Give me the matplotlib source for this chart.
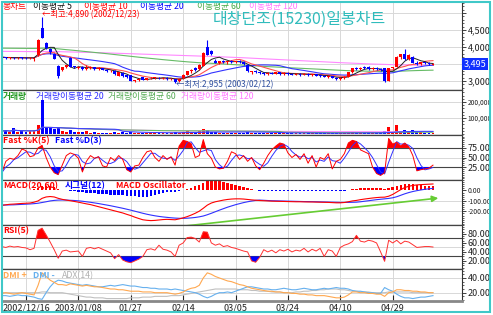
import matplotlib
matplotlib.use("Agg")
import matplotlib.pyplot as plt
import matplotlib.transforms as mtransforms
from matplotlib.patches import Rectangle
from matplotlib.ticker import FixedLocator, MultipleLocator, FuncFormatter
import numpy as np
import pandas as pd

plt.rcParams["font.family"] = ["Noto Sans CJK KR", "DejaVu Sans"]

W, H = 493, 315

# --- data (daily bars, 2002/12 .. 2003/05) ---
tick_bars = [6, 19, 32, 45, 58, 71, 84, 97]
tick_labels = ["2002/12/16", "2003/01/08", "01/27", "02/14", "03/05", "03/24", "04/10", "04/29"]
hi_date, lo_date = "2002/12/23", "2003/02/12"

opens = [3680, 3700, 3680, 3690, 3670, 3690, 3680, 3670, 3640,
         3750, 4560, 4120, 3940, 3800, 3430,
         3320, 3400, 3690, 3430, 3380, 3420, 3340, 3370, 3400, 3350,
         3380, 3330, 3280, 3300, 3160, 3230, 3170, 3170, 3010, 3040,
         3110, 3040, 3080, 3090, 3100, 3080, 3090, 3060, 3050, 2990,
         3080, 3180, 3290, 3380, 3340, 3450, 4000, 3880, 3600, 3540,
         3580, 3550, 3590, 3560, 3580, 3550, 3470, 3270, 3290, 3250,
         3230, 3200, 3240, 3220, 3250, 3200, 3230, 3210, 3190, 3220,
         3180, 3210, 3170, 3200, 3160, 3150, 3130, 3150, 3090, 3060,
         3080, 3120, 3250, 3380, 3340, 3400, 3400, 3350, 3380, 3340,
         3370, 3000, 3390, 3420, 3720, 3800, 3650, 3720, 3540, 3490, 3550, 3530, 3480]
highs = [3720, 3720, 3710, 3710, 3700, 3720, 3700, 3700, 3680,
         4230, 4890, 4150, 3960, 3830, 3460,
         3420, 3480, 3720, 3450, 3440, 3430, 3470, 3450, 3410, 3400,
         3390, 3340, 3330, 3310, 3270, 3260, 3180, 3190, 3040, 3080,
         3120, 3100, 3120, 3130, 3120, 3110, 3110, 3090, 3060, 3060,
         3200, 3300, 3350, 3420, 3500, 3850, 4200, 3900, 3650, 3600,
         3620, 3600, 3610, 3600, 3620, 3580, 3500, 3300, 3310, 3290,
         3260, 3260, 3260, 3270, 3260, 3250, 3250, 3240, 3230, 3240,
         3230, 3230, 3210, 3220, 3190, 3180, 3170, 3160, 3110, 3120,
         3140, 3260, 3390, 3400, 3400, 3440, 3430, 3400, 3400, 3380,
         3390, 3390, 3420, 3740, 3800, 3940, 3780, 3740, 3580, 3560, 3570, 3560, 3520]
lows = [3650, 3660, 3660, 3650, 3640, 3660, 3650, 3640, 3600,
        3740, 4250, 3950, 3800, 3640, 3100,
        3300, 3380, 3400, 3380, 3360, 3330, 3320, 3350, 3330, 3330,
        3310, 3260, 3260, 3190, 3140, 3130, 3100, 2990, 2980, 3010,
        3020, 3030, 3060, 3070, 3060, 3050, 3040, 3020, 2955, 2980,
        3070, 3170, 3240, 3300, 3320, 3440, 3750, 3760, 3520, 3500,
        3530, 3500, 3530, 3520, 3540, 3480, 3260, 3200, 3230, 3210,
        3180, 3190, 3200, 3200, 3190, 3180, 3190, 3170, 3170, 3160,
        3170, 3150, 3150, 3140, 3120, 3110, 3100, 3080, 3030, 3040,
        3060, 3110, 3240, 3320, 3320, 3360, 3330, 3330, 3320, 3300,
        2960, 2990, 3350, 3400, 3650, 3620, 3620, 3520, 3470, 3480, 3500, 3480, 3470]
closes = [3700, 3680, 3690, 3670, 3690, 3680, 3670, 3690, 3670,
          4200, 4260, 3980, 3840, 3660, 3160,
          3400, 3460, 3420, 3400, 3420, 3350, 3380, 3400, 3350, 3380,
          3330, 3280, 3300, 3200, 3250, 3160, 3110, 3000, 3030, 3060,
          3030, 3090, 3100, 3110, 3080, 3100, 3060, 3070, 2980, 3050,
          3180, 3280, 3320, 3330, 3460, 3820, 3770, 3790, 3540, 3580,
          3550, 3590, 3560, 3580, 3550, 3500, 3280, 3290, 3250, 3230,
          3200, 3240, 3220, 3250, 3200, 3230, 3210, 3190, 3220, 3180,
          3210, 3170, 3200, 3160, 3150, 3130, 3150, 3090, 3050, 3100,
          3120, 3250, 3370, 3340, 3380, 3380, 3350, 3380, 3340, 3310,
          3000, 3380, 3400, 3710, 3780, 3640, 3750, 3540, 3490, 3550, 3530, 3510, 3495]
volumes = [18000, 25000, 12000, 38000, 15000, 20000, 12000, 18000, 22000,
           55000, 215000, 45000, 38000, 30000, 35000,
           20000, 15000, 25000, 12000, 10000, 14000, 18000, 9000, 10000, 8000,
           7000, 9000, 6000, 12000, 8000, 10000, 9000, 15000, 7000, 6000,
           8000, 5000, 6000, 5000, 7000, 6000, 5000, 8000, 12000, 9000,
           14000, 20000, 15000, 12000, 18000, 30000, 28000, 14000, 10000, 8000,
           7000, 9000, 6000, 8000, 7000, 6000, 12000, 8000, 6000, 5000,
           6000, 5000, 7000, 5000, 6000, 5000, 6000, 5000, 4000, 5000,
           4000, 5000, 4000, 5000, 6000, 5000, 4000, 6000, 8000, 6000,
           7000, 9000, 14000, 8000, 7000, 9000, 8000, 7000, 6000, 8000,
           20000, 45000, 15000, 55000, 20000, 28000, 15000, 25000, 12000, 10000, 9000, 8000, 7000]

# long moving averages (need history before the window, so read directly)
ma60 = [3965, 3964, 3963, 3962, 3961, 3960, 3959, 3958, 3957, 3960,
        3966, 3968, 3966, 3958, 3946, 3934, 3922, 3911, 3900, 3888,
        3876, 3864, 3852, 3840, 3828, 3816, 3804, 3791, 3778, 3765,
        3752, 3739, 3726, 3713, 3700, 3688, 3676, 3664, 3652, 3640,
        3628, 3617, 3606, 3595, 3584, 3574, 3564, 3555, 3546, 3538,
        3531, 3526, 3520, 3514, 3507, 3500, 3493, 3486, 3479, 3472,
        3465, 3458, 3451, 3444, 3437, 3430, 3423, 3417, 3411, 3405,
        3399, 3393, 3387, 3381, 3375, 3369, 3363, 3357, 3351, 3345,
        3339, 3333, 3327, 3321, 3315, 3309, 3304, 3300, 3297, 3294,
        3291, 3288, 3286, 3284, 3282, 3280, 3279, 3280, 3284, 3289,
        3294, 3299, 3303, 3307, 3310, 3313, 3316, 3318]
ma120 = [3872, 3871, 3870, 3869, 3868, 3867, 3866, 3865, 3864, 3864,
         3866, 3867, 3867, 3866, 3863, 3860, 3857, 3854, 3851, 3848,
         3845, 3842, 3839, 3836, 3833, 3830, 3826, 3822, 3818, 3814,
         3810, 3806, 3802, 3798, 3794, 3790, 3786, 3782, 3778, 3774,
         3770, 3766, 3762, 3758, 3754, 3750, 3746, 3742, 3738, 3734,
         3730, 3727, 3723, 3718, 3713, 3708, 3703, 3698, 3693, 3688,
         3683, 3677, 3671, 3665, 3659, 3653, 3647, 3641, 3635, 3629,
         3623, 3617, 3611, 3605, 3599, 3593, 3587, 3581, 3575, 3569,
         3563, 3557, 3551, 3545, 3539, 3534, 3529, 3524, 3519, 3514,
         3509, 3504, 3500, 3496, 3492, 3488, 3484, 3481, 3478, 3476,
         3474, 3472, 3470, 3468, 3466, 3464, 3462, 3460]

stoch_k = [10, 40, 48, 45, 55, 72, 68, 52, 55,
           75, 82, 50, 25, 10, 5,
           30, 55, 62, 58, 48,
           12, 40, 55, 48, 52,
           28, 25, 50, 42, 55, 45,
           18, 12, 28, 30,
           50, 65, 68, 50,
           40, 55, 45, 52, 30,
           80, 95, 92, 86,
           50, 55, 97, 60, 48,
           25, 20, 22, 40,
           65, 60, 45, 55, 40, 50,
           28, 18, 35,
           55, 70, 80, 88, 85,
           62, 50, 58, 45,
           60, 35, 55, 25, 50, 45, 60, 20,
           40, 45, 60, 88, 95, 92, 70,
           65, 60, 25, 8, 3, 10,
           100, 85, 90, 80, 88, 78, 55,
           15, 18, 20, 22, 30]

rsi = [52, 50, 53, 51, 52, 50, 49, 45, 48,
       88, 93,
       78, 62, 45, 26,
       42, 44, 40, 41, 42,
       30,
       48, 50, 47, 50, 46, 42,
       38, 25, 34,
       22, 18, 16, 20, 24, 30,
       45, 47, 44, 55, 46, 44, 40,
       30,
       55, 60,
       72, 73, 70,
       62,
       85, 84,
       60, 55, 58, 52, 54, 50,
       48, 45, 42, 40,
       20, 17, 28,
       45, 40, 44, 38, 45, 42, 46, 40, 44, 42,
       48, 40, 46, 42, 48, 30, 45, 42,
       30, 50, 55, 58, 63,
       77,
       64, 62, 66, 64, 60,
       40, 19,
       66,
       60, 66, 58, 64, 62,
       56, 50, 51, 52, 52, 51]

macd = [-142, -137, -132, -130, -127, -124, -122, -120,
        -112, -100, -75, -62, -58, -62, -75, -85,
        -92, -98, -105, -112, -120, -128, -135, -145,
        -155, -165, -175, -185, -195, -205, -215, -228,
        -240, -255, -268, -280, -285, -288, -286, -282,
        -278, -276, -278, -280, -272, -262, -250, -235,
        -218, -198, -170, -140, -120, -108, -100, -92,
        -86, -82, -80, -80, -82, -86, -90, -93,
        -96, -98, -100, -102, -103, -104, -105, -106,
        -107, -108, -108, -109, -110, -110, -111, -112,
        -113, -114, -116, -118, -118, -115, -108, -100,
        -95, -88, -82, -77, -72, -68, -65, -64,
        -55, -38, -15, 8, 28, 40, 48, 53,
        56, 58, 60, 62]
signal = [-140, -139, -138, -137, -135, -133, -131, -129,
          -126, -122, -115, -108, -100, -95, -92, -91,
          -92, -94, -96, -99, -103, -108, -113, -119,
          -125, -132, -139, -146, -154, -162, -170, -179,
          -188, -198, -208, -218, -227, -235, -242, -248,
          -253, -257, -261, -264, -266, -266, -265, -262,
          -258, -252, -244, -232, -218, -203, -188, -174,
          -160, -148, -136, -126, -116, -108, -101, -95,
          -92, -94, -96, -98, -99, -100, -101, -102,
          -103, -104, -105, -106, -106, -107, -108, -109,
          -110, -111, -112, -113, -114, -114, -114, -113,
          -112, -108, -103, -98, -93, -88, -84, -80,
          -76, -70, -60, -46, -32, -20, -10, -2,
          5, 11, 16, 20]

dmi_plus = [19, 20, 19, 18, 19, 20, 19, 18, 17,
            30, 47, 42, 37, 34, 31,
            31, 30, 32, 31, 30, 29, 30, 29, 28, 28,
            27, 26, 25, 25, 24, 24, 23, 22, 22, 22,
            21, 21, 21, 20, 20, 20, 20, 19, 18, 19, 21,
            24, 26, 27, 30, 40,
            47, 45, 42, 40, 38, 36, 35, 33, 31, 30, 28,
            26, 25, 24, 23, 22, 22, 21, 21, 20, 20, 19, 19,
            18, 18, 17, 17, 16, 16, 16, 15,
            14, 13, 13, 14, 17,
            21, 21, 20, 20, 19, 19, 18, 18, 15,
            20, 21, 24, 24, 23, 23, 22, 22, 21, 21, 20, 20]
dmi_minus = [16, 16, 15, 16, 17, 16, 16, 15,
             14, 12, 11, 20, 28, 34, 37,
             36, 34, 33, 32, 31, 30, 31, 30, 29, 28,
             28, 29, 30, 29, 30, 31, 30, 29, 29, 28,
             27, 27, 26, 26, 25, 25, 25, 24, 25, 24, 23,
             22, 21, 20, 18, 15,
             13, 15, 18, 20, 20, 21, 20, 22, 24, 26, 28,
             28, 27, 26, 25, 25, 24, 24, 25, 26, 25, 24, 24,
             25, 26, 25, 24, 24, 25, 26, 25,
             26, 27, 26, 26, 25,
             23, 22, 22, 21, 20, 20, 19, 19, 27,
             24, 22, 18, 15, 13, 13, 12, 13, 14, 14, 15, 16]
adx = [20, 20, 20, 20, 20, 20, 20, 20, 20,
       20, 21, 21, 20, 20, 20, 20, 19,
       18, 17, 16, 15, 14, 14, 13, 13, 13, 12, 12, 12, 12, 12, 12, 13, 13,
       13, 14, 14, 14, 15, 15, 15, 15, 16, 16, 16, 17,
       18, 19, 20, 21, 22, 23, 24, 25, 25, 25, 25, 25,
       25, 24, 24, 24, 23, 23, 22, 22,
       22, 21, 21, 21, 20, 20, 20, 21, 21, 22, 22, 23, 23, 24, 24, 25,
       25, 25, 24, 24, 23, 22, 22, 21, 21,
       21, 20, 20, 20, 20, 21, 21, 21, 21, 21, 21, 20, 20, 20, 20, 20, 20]

# hand-drawn trend arrow on the MACD panel (bar, value)
trend_from, trend_to = (43.7, -347), (109, -70)

# --- derived short-window series ---
df = pd.DataFrame({"o": opens, "h": highs, "l": lows, "c": closes, "v": volumes,
                   "k": stoch_k, "rsi": rsi})
n = len(df)
x = np.arange(n)
for k in (5, 10, 20):
    df[f"ma{k}"] = df.c.rolling(k, min_periods=1).mean()
for k in (20, 60, 120):
    df[f"vma{k}"] = df.v.rolling(k, min_periods=1).mean()
df["d"] = df.k.rolling(3, min_periods=1).mean()
osc = np.array(macd) - np.array(signal)

RED, BLUE = "#ff0000", "#0000ff"
GRID = "#d8d8d8"
XL = (0.05, 114.2)

fig = plt.figure(figsize=(W / 100, H / 100), dpi=100)


def panel(top, bottom, left=2, right=462):
    return fig.add_axes([left / W, 1 - bottom / H, (right - left) / W, (bottom - top) / H])


def style(ax, ylim, major, minor, fmt, grid=(), size=6.5):
    ax.set_xlim(*XL)
    ax.set_ylim(*ylim)
    ax.yaxis.tick_right()
    ax.yaxis.set_major_locator(FixedLocator(major))
    ax.yaxis.set_minor_locator(MultipleLocator(minor))
    ax.yaxis.set_major_formatter(FuncFormatter(fmt))
    ax.tick_params(axis="y", which="major", length=3, width=0.6, pad=1, labelsize=size,
                   colors="#222222")
    ax.tick_params(axis="y", which="minor", length=1.5, width=0.5, colors="#222222")
    ax.tick_params(axis="x", which="both", bottom=False, labelbottom=False)
    ax.spines["left"].set_visible(False)
    ax.spines["right"].set_color("#333333")
    for s in ("top", "bottom"):
        ax.spines[s].set_color("#444444")
        ax.spines[s].set_linewidth(0.9)
    for t in tick_bars:
        ax.axvline(t, color=GRID, lw=0.7, zorder=0)
    for g in grid:
        ax.axhline(g, color=GRID, lw=0.7, zorder=0)


def comma(v, _):
    return "" if v >= 5000 and v < 10000 else f"{v:,.0f}"


def two(v, _):
    return f"{v:.2f}"


def label(px, py, s, color, size=6.3, weight="normal"):
    fig.text(px / W, 1 - py / H, s, color=color, fontsize=size, fontweight=weight,
             ha="left", va="center")


# price
ax_p = panel(1, 90)
style(ax_p, (2735, 5353), [3000, 4000, 4500, 5000], 100, comma, (3000, 3500, 4000, 4500, 5000))
ax_p.spines["top"].set_visible(False)
up = df.c >= df.o
cols = np.where(up, RED, BLUE)
ax_p.vlines(x, df.l, df.h, colors=cols, lw=0.8, zorder=3)
body = np.maximum((df.c - df.o).abs(), 12)
ax_p.bar(x, body, bottom=np.minimum(df.o, df.c), width=0.72, color=cols, zorder=3)
ax_p.plot(x, ma120, color="#ff88ff", lw=0.8, zorder=2)
ax_p.plot(x, ma60, color="#66bb66", lw=0.8, zorder=2)
ax_p.plot(x, df.ma20, color="#3333ff", lw=0.8, zorder=2)
ax_p.plot(x, df.ma10, color="#ff5050", lw=0.8, zorder=2)
ax_p.plot(x, df.ma5, color="#222222", lw=0.7, zorder=2)
hi_i, lo_i = int(df.h.idxmax()), int(df.l.idxmin())
ax_p.text(hi_i + 0.1, df.h[hi_i] + 50, f"←최고:{df.h[hi_i]:,} ({hi_date})", color=RED,
          fontsize=6, ha="left", va="center")
ax_p.text(lo_i + 0.2, df.l[lo_i] - 75, f"←최저:{df.l[lo_i]:,} ({lo_date})", color="#3050a0",
          fontsize=6, ha="left", va="center")
tr = mtransforms.blended_transform_factory(ax_p.transAxes, ax_p.transData)
ax_p.text(1.004, closes[-1], f"{closes[-1]:,}", transform=tr, color="white", fontsize=6.5,
          ha="left", va="center", clip_on=False,
          bbox=dict(boxstyle="square,pad=0.18", fc="#1030ff", ec="none"))

# volume
ax_v = panel(90, 135)
style(ax_v, (-6250, 275000), [100000, 200000], 20000, comma, (100000, 200000), size=4.8)
ax_v.bar(x, df.v, width=0.72, color=cols, zorder=3)
ax_v.plot(x, df.vma120, color="#ff88ff", lw=0.8, zorder=4)
ax_v.plot(x, df.vma60, color="#66bb66", lw=0.8, zorder=4)
ax_v.plot(x, df.vma20, color="#4040ff", lw=0.8, zorder=4)

# stochastic
ax_s = panel(135, 180)
style(ax_s, (-9, 109), [25, 50, 75], 5, two, (50,))
ax_s.fill_between(x, df.k, 75, where=df.k >= 75, interpolate=True, color=RED, lw=0, zorder=2)
ax_s.fill_between(x, df.k, 25, where=df.k <= 25, interpolate=True, color=BLUE, lw=0, zorder=2)
ax_s.axhline(75, color="#444444", lw=0.8, zorder=1)
ax_s.axhline(25, color="#444444", lw=0.8, zorder=1)
ax_s.plot(x, df.d, color="#3030ff", lw=0.7, zorder=3)
ax_s.plot(x, df.k, color=RED, lw=0.7, zorder=3)

# MACD
ax_m = panel(180, 225)
style(ax_m, (-330, 100), [0, -100, -200], 20, two, (-100, -200), size=5)
ax_m.bar(x, osc, width=0.6, color=np.where(osc >= 0, RED, BLUE), zorder=2)
ax_m.plot(x, signal, color="#3030ff", lw=0.8, zorder=3)
ax_m.plot(x, macd, color=RED, lw=0.8, zorder=3)
ax_m.annotate("", xy=trend_to, xytext=trend_from, annotation_clip=False, zorder=6,
              arrowprops=dict(arrowstyle="-|>", color="#66cc33", lw=1.2, mutation_scale=9))

# RSI
ax_r = panel(225, 269)
style(ax_r, (2, 100), [20, 40, 60, 80], 5, two, (50,))
ax_r.fill_between(x, df.rsi, 70, where=df.rsi >= 70, interpolate=True, color=RED, lw=0, zorder=2)
ax_r.fill_between(x, df.rsi, 30, where=df.rsi <= 30, interpolate=True, color=BLUE, lw=0, zorder=2)
ax_r.axhline(70, color="#444444", lw=0.8, zorder=1)
ax_r.axhline(30, color="#444444", lw=0.8, zorder=1)
ax_r.plot(x, df.rsi, color="#ff3030", lw=0.7, zorder=3)

# DMI
ax_d = panel(269, 301)
style(ax_d, (8.7, 52.2), [20, 40], 5, two, (20, 40))
ax_d.plot(x, adx, color="#c0c0c0", lw=0.8)
ax_d.plot(x, dmi_minus, color="#66b0ee", lw=0.8)
ax_d.plot(x, dmi_plus, color="#ffa850", lw=0.8)
ax_d.spines["bottom"].set_color("#888888")
ax_d.spines["bottom"].set_linewidth(2)
ax_d.set_xticks(tick_bars)
ax_d.set_xticklabels(tick_labels)
ax_d.tick_params(axis="x", bottom=True, labelbottom=True, direction="in", length=4, width=0.8,
                 pad=2, labelsize=6.5, colors="#222222")

# headers
label(3, 6, "봉차트", RED)
label(33, 6, "이동평균 5", "#111111")
label(84, 6, "이동평균 10", RED)
label(140, 6, "이동평균 20", BLUE)
label(197, 6, "이동평균 60", "#44aa44")
label(249, 6, "이동평균 120", "#ff77ff")
fig.text(213 / W, 1 - 19 / H, "대창단조(15230)일봉차트", color="#30bcbc", fontsize=11.5,
         ha="left", va="center")
label(3, 97, "거래량", "#229922", weight="bold")
label(36, 97, "거래량이동평균 20", "#3030ff")
label(108, 97, "거래량이동평균 60", "#55aa55")
label(181, 97, "거래량이동평균 120", "#ff77ff")
label(3, 141, "Fast %K(5)", RED, weight="bold")
label(55, 141, "Fast %D(3)", BLUE, weight="bold")
label(3, 186, "MACD(20,60)", RED, weight="bold")
label(65, 186, "시그널(12)", BLUE, weight="bold")
label(116, 186, "MACD Oscillator", RED, weight="bold")
label(3, 231, "RSI(5)", RED, weight="bold")
label(3, 276, "DMI +", "#ffa850", weight="bold")
label(33, 276, "DMI -", "#66b0ee", weight="bold")
label(62, 276, "ADX(14)", "#b0b0b0")

fig.add_artist(Rectangle((1.5 / W, 1 - 311.5 / H), 488 / W, 310 / H, transform=fig.transFigure,
                         fill=False, ec="#40c8c8", lw=1.5, zorder=10))

fig.savefig("out.png", dpi=100)
